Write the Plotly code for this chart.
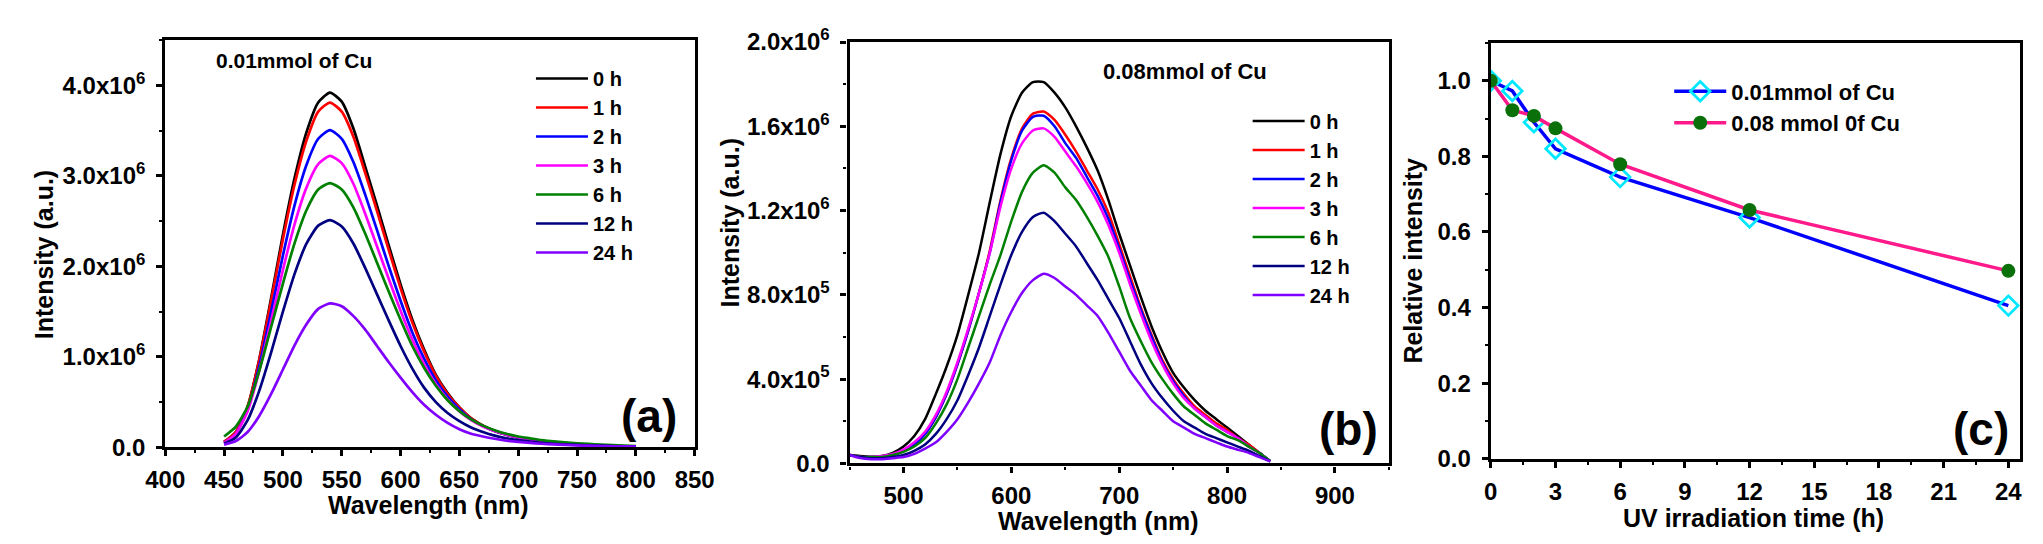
import plotly.graph_objects as go

# ---------------- data ----------------
hours_labels = ["0 h", "1 h", "2 h", "3 h", "6 h", "12 h", "24 h"]
colors = ["#000000", "#ff0000", "#0000ff", "#ff00ff", "#008000", "#000080", "#8000ff"]

wl_a = [450, 460, 470, 480, 490, 500, 510, 520, 530, 540, 550, 560, 570, 580, 590, 600,
        610, 620, 630, 640, 650, 660, 670, 680, 690, 700, 710, 720, 730, 740, 750, 760,
        770, 780, 790, 800]
# panel (a) intensities, units of 1e6
a_0h = [0.06, 0.17, 0.45, 0.98, 1.65, 2.35, 2.98, 3.48, 3.81, 3.92, 3.82, 3.52, 3.10, 2.67, 2.23, 1.80,
        1.41, 1.08, 0.80, 0.60, 0.44, 0.32, 0.24, 0.18, 0.14, 0.11, 0.085, 0.065, 0.05, 0.04, 0.032, 0.025,
        0.02, 0.015, 0.012, 0.01]
a_1h = [0.06, 0.17, 0.45, 0.97, 1.62, 2.30, 2.91, 3.39, 3.71, 3.81, 3.71, 3.43, 3.03, 2.61, 2.18, 1.76,
        1.38, 1.06, 0.79, 0.59, 0.44, 0.32, 0.24, 0.18, 0.14, 0.11, 0.085, 0.065, 0.05, 0.04, 0.032, 0.025,
        0.02, 0.015, 0.012, 0.01]
a_2h = [0.05, 0.15, 0.42, 0.90, 1.50, 2.12, 2.68, 3.12, 3.41, 3.505, 3.41, 3.15, 2.79, 2.40, 2.00, 1.62,
        1.27, 0.98, 0.74, 0.56, 0.42, 0.31, 0.235, 0.18, 0.14, 0.11, 0.085, 0.065, 0.05, 0.04, 0.032, 0.025,
        0.02, 0.015, 0.012, 0.01]
a_3h = [0.05, 0.15, 0.40, 0.85, 1.40, 1.96, 2.47, 2.87, 3.13, 3.22, 3.14, 2.91, 2.58, 2.22, 1.86, 1.51,
        1.19, 0.92, 0.70, 0.53, 0.40, 0.30, 0.23, 0.18, 0.14, 0.11, 0.085, 0.065, 0.05, 0.04, 0.032, 0.025,
        0.02, 0.015, 0.012, 0.01]
a_6h = [0.12, 0.23, 0.45, 0.85, 1.33, 1.81, 2.26, 2.62, 2.85, 2.92, 2.85, 2.65, 2.36, 2.04, 1.72, 1.41,
        1.12, 0.88, 0.68, 0.52, 0.40, 0.31, 0.24, 0.19, 0.15, 0.12, 0.10, 0.08, 0.065, 0.055, 0.045, 0.038,
        0.03, 0.025, 0.02, 0.015]
a_12h = [0.04, 0.11, 0.30, 0.63, 1.05, 1.50, 1.92, 2.25, 2.45, 2.51, 2.44, 2.25, 1.98, 1.69, 1.40, 1.12,
         0.87, 0.66, 0.50, 0.38, 0.29, 0.22, 0.17, 0.13, 0.10, 0.08, 0.065, 0.05, 0.04, 0.033, 0.027, 0.022,
         0.018, 0.014, 0.011, 0.01]
a_24h = [0.03, 0.07, 0.17, 0.35, 0.59, 0.86, 1.13, 1.36, 1.53, 1.59, 1.56, 1.45, 1.30, 1.12, 0.94, 0.77,
         0.61, 0.47, 0.36, 0.27, 0.20, 0.15, 0.12, 0.095, 0.075, 0.06, 0.05, 0.04, 0.033, 0.027, 0.022, 0.018,
         0.015, 0.012, 0.01, 0.008]

wl_b = [450, 460, 470, 480, 490, 500, 510, 520, 530, 540, 550, 560, 570, 580, 590, 600,
        610, 620, 630, 640, 650, 660, 670, 680, 690, 700, 710, 720, 730, 740, 750, 760,
        770, 780, 790, 800, 810, 820, 830, 840]
# panel (b) intensities, units of 1e6
b_0h = [0.04, 0.035, 0.03, 0.035, 0.05, 0.08, 0.13, 0.21, 0.33, 0.46, 0.61, 0.80, 1.00, 1.24, 1.47, 1.65,
        1.76, 1.81, 1.81, 1.76, 1.69, 1.60, 1.50, 1.39, 1.25, 1.09, 0.94, 0.79, 0.65, 0.53, 0.43, 0.36,
        0.30, 0.25, 0.21, 0.17, 0.13, 0.09, 0.05, 0.01]
b_1h = [0.04, 0.03, 0.03, 0.03, 0.04, 0.06, 0.09, 0.14, 0.22, 0.33, 0.47, 0.63, 0.81, 1.01, 1.25, 1.45,
        1.59, 1.66, 1.67, 1.63, 1.56, 1.48, 1.39, 1.30, 1.19, 1.04, 0.89, 0.74, 0.61, 0.49, 0.40, 0.33,
        0.27, 0.23, 0.19, 0.16, 0.12, 0.09, 0.05, 0.01]
b_2h = [0.04, 0.03, 0.03, 0.03, 0.04, 0.06, 0.09, 0.14, 0.22, 0.33, 0.47, 0.63, 0.81, 1.00, 1.24, 1.44,
        1.58, 1.645, 1.65, 1.60, 1.52, 1.45, 1.36, 1.27, 1.16, 1.02, 0.87, 0.73, 0.60, 0.48, 0.39, 0.32,
        0.26, 0.22, 0.18, 0.15, 0.12, 0.08, 0.05, 0.01]
b_3h = [0.04, 0.03, 0.03, 0.035, 0.045, 0.065, 0.10, 0.15, 0.23, 0.34, 0.48, 0.64, 0.81, 1.00, 1.22, 1.40,
        1.52, 1.58, 1.59, 1.55, 1.48, 1.41, 1.33, 1.24, 1.13, 1.00, 0.85, 0.71, 0.58, 0.47, 0.38, 0.31,
        0.26, 0.22, 0.18, 0.15, 0.12, 0.08, 0.05, 0.01]
b_6h = [0.04, 0.03, 0.03, 0.03, 0.04, 0.055, 0.08, 0.12, 0.19, 0.28, 0.40, 0.55, 0.70, 0.85, 0.99, 1.15,
        1.29, 1.38, 1.415, 1.38, 1.31, 1.25, 1.17, 1.08, 0.98, 0.84, 0.69, 0.58, 0.48, 0.40, 0.33, 0.27,
        0.23, 0.19, 0.16, 0.13, 0.11, 0.08, 0.05, 0.01]
b_12h = [0.04, 0.03, 0.025, 0.025, 0.03, 0.04, 0.06, 0.09, 0.14, 0.21, 0.30, 0.42, 0.55, 0.70, 0.85, 0.99,
         1.10, 1.17, 1.19, 1.15, 1.09, 1.03, 0.95, 0.87, 0.78, 0.69, 0.58, 0.47, 0.38, 0.31, 0.25, 0.20,
         0.17, 0.14, 0.12, 0.10, 0.08, 0.06, 0.035, 0.01]
b_24h = [0.04, 0.025, 0.02, 0.02, 0.025, 0.03, 0.045, 0.07, 0.10, 0.15, 0.21, 0.29, 0.38, 0.48, 0.61, 0.72,
         0.81, 0.87, 0.90, 0.88, 0.84, 0.80, 0.75, 0.70, 0.62, 0.53, 0.44, 0.37, 0.30, 0.25, 0.20, 0.17,
         0.14, 0.12, 0.10, 0.08, 0.065, 0.05, 0.03, 0.01]

# panel (c)
t_hours = [0, 1, 2, 3, 6, 12, 24]
rel_001 = [1.0, 0.973, 0.89, 0.82, 0.745, 0.638, 0.405]
rel_008 = [1.0, 0.922, 0.907, 0.874, 0.779, 0.658, 0.497]

ytick_a_vals = [0, 1e6, 2e6, 3e6, 4e6]
ytick_a_text = ["0.0", "1.0x10<sup>6</sup>", "2.0x10<sup>6</sup>", "3.0x10<sup>6</sup>", "4.0x10<sup>6</sup>"]
ytick_b_vals = [0, 4e5, 8e5, 1.2e6, 1.6e6, 2.0e6]
ytick_b_text = ["0.0", "4.0x10<sup>5</sup>", "8.0x10<sup>5</sup>", "1.2x10<sup>6</sup>",
                "1.6x10<sup>6</sup>", "2.0x10<sup>6</sup>"]
ytick_c_text = ["0.0", "0.2", "0.4", "0.6", "0.8", "1.0"]

# ---------------- figure ----------------
W, H = 2043, 544
FONT = "Liberation Sans, Arial, sans-serif"


def px_x(p):
    return p / W


def px_y(p):
    return 1 - p / H


fig = go.Figure()

a_series = [a_0h, a_1h, a_2h, a_3h, a_6h, a_12h, a_24h]
b_series = [b_0h, b_1h, b_2h, b_3h, b_6h, b_12h, b_24h]

for lab, col, ys in zip(hours_labels, colors, a_series):
    fig.add_trace(go.Scatter(x=wl_a, y=[v * 1e6 for v in ys], mode="lines", name="<b>" + lab + "</b>",
                             line=dict(color=col, width=2.7, shape="spline", smoothing=0.6),
                             xaxis="x", yaxis="y", legend="legend"))
for lab, col, ys in zip(hours_labels, colors, b_series):
    fig.add_trace(go.Scatter(x=wl_b, y=[v * 1e6 for v in ys], mode="lines", name="<b>" + lab + "</b>",
                             line=dict(color=col, width=2.5, shape="spline", smoothing=0.6),
                             xaxis="x2", yaxis="y2", legend="legend2"))

fig.add_trace(go.Scatter(x=t_hours, y=rel_001, mode="lines+markers", name="<b>0.01mmol of Cu</b>",
                         line=dict(color="#0000ff", width=3.5),
                         marker=dict(symbol="diamond-open", size=15, color="#00e8ff", line=dict(width=2.8)),
                         xaxis="x3", yaxis="y3", legend="legend3"))
fig.add_trace(go.Scatter(x=t_hours, y=rel_008, mode="lines+markers", name="<b>0.08 mmol 0f Cu</b>",
                         line=dict(color="#ff1a8c", width=3.5),
                         marker=dict(symbol="circle", size=14, color="#0a700a"),
                         xaxis="x3", yaxis="y3", legend="legend3"))

tickfont = dict(family=FONT, size=24, color="black", weight="bold")
common = dict(showgrid=False, zeroline=False, showline=True, linecolor="black", linewidth=3.2,
              mirror=True, ticks="outside", ticklen=6, tickwidth=2.5, tickcolor="black",
              tickfont=tickfont)
minor_style = dict(ticks="outside", ticklen=3, tickwidth=2, tickcolor="black")

fig.update_layout(
    width=W, height=H, margin=dict(l=0, r=0, t=0, b=0),
    paper_bgcolor="white", plot_bgcolor="white",
    xaxis=dict(domain=[px_x(140), px_x(680)], range=[400, 850], tickvals=list(range(400, 851, 50)),
               minor=dict(dtick=25, **minor_style), ticklabelstandoff=3,
               anchor="y", **common),
    yaxis=dict(domain=[px_y(447), px_y(16)], range=[0, 4.5e6], tickvals=ytick_a_vals, ticktext=ytick_a_text,
               minor=dict(dtick=5e5, **minor_style), ticklabelstandoff=6,
               anchor="x", **common),
    xaxis2=dict(domain=[px_x(838), px_x(1388)], range=[450, 950], tickvals=[500, 600, 700, 800, 900],
                minor=dict(dtick=50, **minor_style), ticklabelstandoff=3,
                anchor="y2", **common),
    yaxis2=dict(domain=[px_y(464), px_y(18)], range=[0, 2.0e6], tickvals=ytick_b_vals, ticktext=ytick_b_text,
                minor=dict(dtick=2e5, **minor_style), ticklabelstandoff=6,
                anchor="x2", **common),
    xaxis3=dict(domain=[px_x(1492), px_x(2032)], range=[0, 24.55], tickvals=list(range(0, 25, 3)),
                minor=dict(dtick=1.5, **minor_style), ticklabelstandoff=3,
                anchor="y3", **common),
    yaxis3=dict(domain=[px_y(459), px_y(19)], range=[0, 1.1], tickvals=[0, 0.2, 0.4, 0.6, 0.8, 1.0],
                ticktext=ytick_c_text,
                minor=dict(dtick=0.1, **minor_style), ticklabelstandoff=6,
                anchor="x3", **common),
    legend=dict(x=px_x(513), y=px_y(36), xanchor="left", yanchor="top", bgcolor="rgba(0,0,0,0)",
                font=dict(family=FONT, size=20, color="black"), itemwidth=52, tracegroupgap=0),
    legend2=dict(x=px_x(1244), y=px_y(81), xanchor="left", yanchor="top", bgcolor="rgba(0,0,0,0)",
                 font=dict(family=FONT, size=20, color="black"), itemwidth=52, tracegroupgap=0),
    legend3=dict(x=px_x(1674), y=px_y(48), xanchor="left", yanchor="top", bgcolor="rgba(0,0,0,0)",
                 font=dict(family=FONT, size=22, color="black"), itemwidth=52, tracegroupgap=0),
    showlegend=True,
)

ann = []


def add_text(txt, x, y, size, angle=0):
    ann.append(dict(text="<b>" + txt + "</b>", x=px_x(x), y=px_y(y), xref="paper", yref="paper",
                    xanchor="center", yanchor="middle", showarrow=False, textangle=angle,
                    font=dict(family=FONT, size=size, color="black")))


add_text("0.01mmol of Cu", 271, 38, 21)
add_text("0.08mmol of Cu", 1180, 49, 22)
add_text("(a)", 633, 414, 46)
add_text("(b)", 1347, 428, 46)
add_text("(c)", 1992, 428, 46)
add_text("Wavelength (nm)", 408, 508, 25)
add_text("Wavelength (nm)", 1091, 525, 25)
add_text("UV irradiation time (h)", 1760, 522, 25)
add_text("Intensity (a.u.)", 16, 243, 25, -90)
add_text("Intensity (a.u.)", 716, 209, 25, -90)
add_text("Relative intensity", 1413, 249, 25, -90)
fig.update_layout(annotations=ann)

fig.write_html("out.html")
